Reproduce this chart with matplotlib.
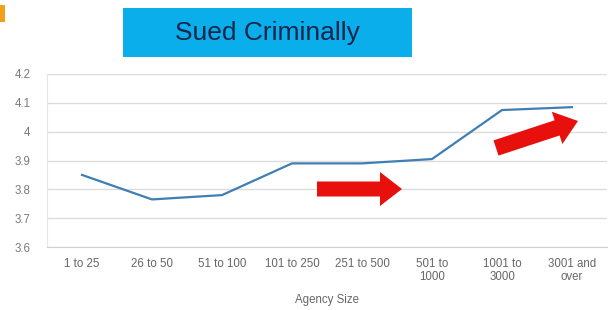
import matplotlib
matplotlib.use("Agg")
import matplotlib.pyplot as plt
from matplotlib.patches import FancyArrow, Rectangle
from matplotlib.transforms import Affine2D

categories = ["1 to 25", "26 to 50", "51 to 100", "101 to 250", "251 to 500",
              "501 to\n1000", "1001 to\n3000", "3001 and\nover"]
values = [3.85, 3.765, 3.78, 3.89, 3.89, 3.905, 4.075, 4.085]
yticks = [3.6, 3.7, 3.8, 3.9, 4.0, 4.1, 4.2]
ytick_labels = ["3.6", "3.7", "3.8", "3.9", "4", "4.1", "4.2"]

W, H = 608, 310
fig = plt.figure(figsize=(W / 100, H / 100), dpi=100)
fig.patch.set_facecolor("white")
plt.rcParams["font.family"] = ["Liberation Sans", "DejaVu Sans"]

# pixel transform (origin top-left)
px = Affine2D().scale(1, -1).translate(0, H).scale(1 / W, 1 / H) + fig.transFigure

ax = fig.add_axes([47 / W, 1 - 247 / H, 560 / W, (247 - 74) / H])
x = list(range(len(categories)))
ax.plot(x, values, color="#3f7fb4", lw=1.6, solid_joinstyle="miter")
ax.set_xlim(-0.5, len(categories) - 0.5)
ax.set_ylim(3.6, 4.2)
ax.set_yticks(yticks)
ax.set_yticklabels(ytick_labels)
ax.set_xticks(x)
ax.set_xticklabels(categories, linespacing=1.1)
ax.tick_params(axis="both", length=0, labelsize=8.3, colors="#666666")
ax.tick_params(axis="x", pad=8)
ax.tick_params(axis="y", pad=12, colors="#7a7a7a")
ax.grid(axis="y", color="#dcdcdc", lw=1)
ax.set_axisbelow(True)
for s in ["top", "right"]:
    ax.spines[s].set_visible(False)
ax.spines["left"].set_color("#e6e6e6")
ax.spines["bottom"].set_color("#d0d0d0")
ax.set_xlabel("Agency Size", fontsize=8.3, color="#666666", labelpad=8)

# title box
fig.patches.append(Rectangle((123, 57), 289, -49, transform=px,
                             facecolor="#0aaeea", edgecolor="none"))
fig.text((123 + 412) / 2 / W, 1 - 33 / H, "Sued Criminally", ha="center",
         va="center", fontsize=19, color="#13254a")
# orange corner mark
fig.patches.append(Rectangle((0, 22), 5, -17, transform=px,
                             facecolor="#f0a01c", edgecolor="none"))

# red arrows
fig.patches.append(FancyArrow(317, 189, 85, 0, width=15, head_width=34,
                              head_length=22, length_includes_head=True,
                              transform=px, color="#e8100c", lw=0))
fig.patches.append(FancyArrow(496, 148, 82, -27, width=16, head_width=34,
                              head_length=22, length_includes_head=True,
                              transform=px, color="#e8100c", lw=0))

fig.savefig("out.png", dpi=100)
